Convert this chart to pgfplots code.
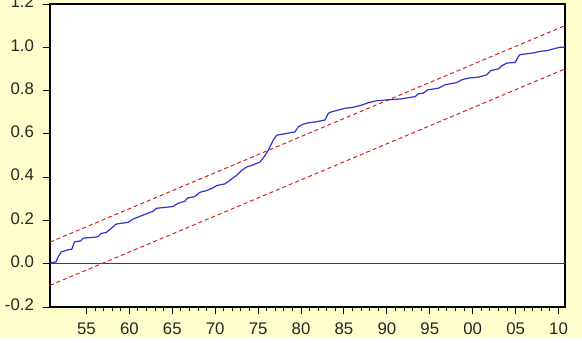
\documentclass[border=0pt]{standalone}
\usepackage{pgfplots}
\pgfplotsset{compat=1.18}
\usepackage{fontspec}
\setmainfont{Liberation Sans}
\definecolor{bgyellow}{RGB}{255,255,204}
\definecolor{cusum}{RGB}{50,50,210}
\definecolor{bound}{RGB}{220,30,30}
\begin{document}
\begin{tikzpicture}
\fill[bgyellow] (-25pt,-15pt) rectangle (266pt,153.5pt);
\begin{axis}[
  at={(0pt,0pt)}, anchor=south west,
  scale only axis, width=257.5pt, height=151.5pt,
  xmin=1950.75, xmax=2010.75, ymin=-0.2, ymax=1.2,
  axis background/.style={fill=white},
  axis line style={line width=1pt, black},
  xtick={1955,1960,...,2010},
  xticklabels={55,60,65,70,75,80,85,90,95,00,05,10},
  minor x tick num=4,
  ytick={-0.2,0,0.2,0.4,0.6,0.8,1.0,1.2},
  yticklabel style={/pgf/number format/fixed, /pgf/number format/fixed zerofill, /pgf/number format/precision=1, xshift=-1pt, yshift=1pt},
  /pgf/number format/assume math mode=true,
  tick align=outside, xtick pos=left, ytick pos=left,
  major tick length=3.5pt, minor tick length=2pt,
  tick style={black, line width=0.5pt},
  ticklabel style={font=\fontsize{8.4}{10}\selectfont, text=black!85},
  xticklabel style={yshift=-1pt},
]
\addplot[draw=black!75, line width=0.5pt] coordinates {(1950.75,0) (2010.75,0)};
\addplot[bound, line width=0.5pt, dash pattern=on 2pt off 1.5pt] coordinates {(1950.75,0.1) (2010.75,1.1)};
\addplot[bound, line width=0.5pt, dash pattern=on 2pt off 1.5pt] coordinates {(1950.75,-0.1) (2010.75,0.9)};
\addplot[cusum, line width=0.6pt] coordinates {
(1950.75,0.000) (1950.80,0.005) (1951.46,0.008) (1951.65,0.028) (1952.04,0.054)
(1952.82,0.064) (1953.29,0.067) (1953.60,0.101) (1954.37,0.106) (1954.57,0.118)
(1956.32,0.124) (1956.70,0.140) (1957.29,0.144) (1957.87,0.163) (1958.45,0.183)
(1959.82,0.191) (1960.40,0.206) (1961.95,0.230) (1962.73,0.242) (1963.12,0.256)
(1965.06,0.264) (1965.65,0.279) (1966.43,0.288) (1966.81,0.304) (1967.63,0.310)
(1968.21,0.330) (1968.99,0.338) (1969.76,0.351) (1970.16,0.361) (1971.13,0.369)
(1971.71,0.385) (1972.49,0.408) (1973.08,0.431) (1973.66,0.447) (1974.24,0.454)
(1975.21,0.470) (1975.68,0.493) (1976.18,0.524) (1976.46,0.547) (1976.76,0.571)
(1977.16,0.594) (1977.93,0.599) (1978.71,0.605) (1979.29,0.609) (1979.68,0.633)
(1980.26,0.645) (1980.84,0.651) (1981.82,0.656) (1982.79,0.664) (1983.18,0.695)
(1983.57,0.702) (1984.34,0.710) (1985.12,0.718) (1986.09,0.723) (1987.07,0.733)
(1987.84,0.744) (1988.82,0.753) (1989.99,0.757) (1991.54,0.761) (1992.50,0.767)
(1993.29,0.772) (1993.67,0.785) (1994.25,0.788) (1994.72,0.803) (1996.00,0.811)
(1996.78,0.827) (1998.15,0.837) (1998.73,0.850) (1999.50,0.858) (2000.67,0.862)
(2001.65,0.873) (2002.11,0.893) (2003.00,0.900) (2003.40,0.915) (2003.98,0.927)
(2004.95,0.930) (2005.33,0.958) (2005.53,0.966) (2007.08,0.974) (2007.86,0.981)
(2008.83,0.986) (2009.41,0.993) (2010.20,1.000) (2010.75,1.000)
};
\end{axis}
\pgfresetboundingbox
\path (-25pt,-18.5pt) rectangle (266pt,153.5pt);
\end{tikzpicture}
\end{document}
